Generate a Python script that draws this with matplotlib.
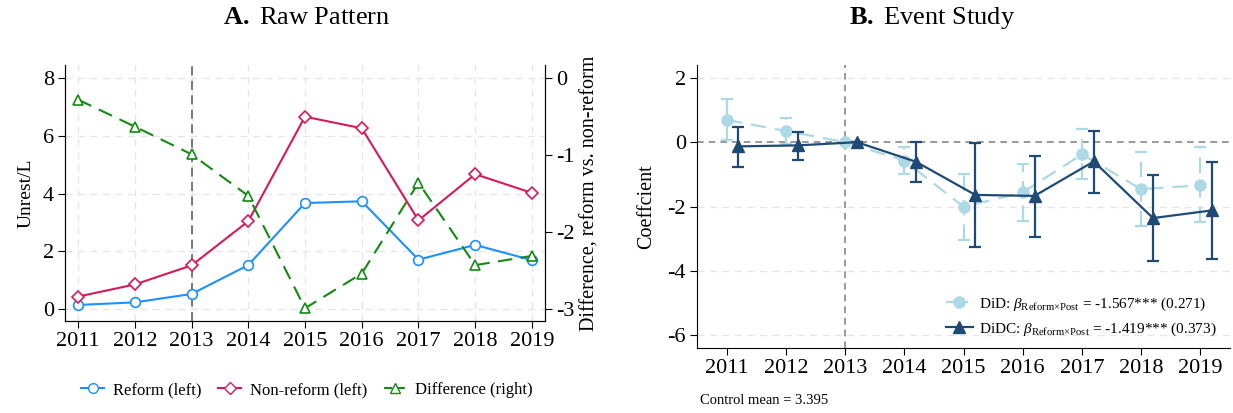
import numpy as np
import matplotlib
matplotlib.use('Agg')
import matplotlib.pyplot as plt
from matplotlib.lines import Line2D

plt.rcParams['font.family'] = ['Liberation Serif', 'DejaVu Serif']
plt.rcParams['mathtext.fontset'] = 'custom'
plt.rcParams['mathtext.rm'] = 'Liberation Serif'
plt.rcParams['mathtext.it'] = 'Liberation Serif:italic'
plt.rcParams['mathtext.bf'] = 'Liberation Serif:bold'
plt.rcParams['axes.unicode_minus'] = False

# ── 数据 ──
years = [2011, 2012, 2013, 2014, 2015, 2016, 2017, 2018, 2019]
reform = [0.14, 0.23, 0.52, 1.52, 3.67, 3.73, 1.71, 2.22, 1.69]
non_reform = [0.43, 0.85, 1.51, 3.04, 6.66, 6.26, 3.07, 4.67, 4.02]
difference = [-0.28, -0.63, -0.99, -1.53, -2.99, -2.54, -1.36, -2.43, -2.31]

did = [0.69, 0.35, 0.0, -0.57, -2.01, -1.56, -0.38, -1.46, -1.34]
did_hi = [1.33, 0.76, 0.0, -0.14, -0.98, -0.67, 0.41, -0.30, -0.16]
did_lo = [0.07, -0.06, 0.0, -0.98, -3.04, -2.45, -1.16, -2.61, -2.49]

didc = [-0.13, -0.10, 0.0, -0.61, -1.64, -1.67, -0.60, -2.36, -2.12]
didc_hi = [0.46, 0.32, 0.0, 0.01, -0.03, -0.43, 0.35, -1.01, -0.62]
didc_lo = [-0.76, -0.54, 0.0, -1.25, -3.27, -2.94, -1.57, -3.70, -3.63]

control_mean = 3.395

W, H = 1233, 413
fig = plt.figure(figsize=(W / 100, H / 100), dpi=100)

def px_axes(l, r, t, b):
    return fig.add_axes([l / W, 1 - b / H, (r - l) / W, (b - t) / H])

c_reform = '#1e8fff'
c_non = '#d7195b'
c_diff = '#138a13'
c_did = '#add8e6'
c_didc = '#1f4a75'
grid_kw = dict(color='#e6e6e6', linestyle=(0, (5, 4)), linewidth=1.0)

# ── A. Raw Pattern ──
ax1 = px_axes(65, 545, 65, 321)
ax1.set_xlim(2010.77, 2019.23)
ax1.set_ylim(-0.415, 8.45)
ax1.set_xticks(years)
ax1.set_yticks([0, 2, 4, 6, 8])
for y in [0, 2, 4, 6, 8]:
    ax1.axhline(y, zorder=0, **grid_kw)
for x in years:
    ax1.axvline(x, zorder=0, **grid_kw)
ax1.axvline(2013, color='#6e6e6e', linestyle=(0, (5, 3)), linewidth=1.3, zorder=1)
ax1.plot(years, reform, color=c_reform, marker='o', ms=7, mfc='white',
         mew=1.2, lw=1.5, zorder=3)
ax1.plot(years, non_reform, color=c_non, marker='D', ms=6.5, mfc='white',
         mew=1.2, lw=1.5, zorder=3)
ax1.spines['top'].set_visible(False)
ax1.set_ylabel('Unrest/L', fontsize=14, labelpad=6)
ax1.tick_params(labelsize=16, length=5, pad=3)

ax1b = ax1.twinx()
ax1b.set_ylim(-3.156, 0.17)
ax1b.set_yticks([0, -1, -2, -3])
ax1b.plot(years, difference, color=c_diff, marker='^', ms=7, mfc='white',
          mew=1.2, lw=1.5, linestyle=(0, (7, 4)), zorder=3)
ax1b.spines['top'].set_visible(False)
ax1b.set_ylabel('Difference, reform vs. non-reform', fontsize=14.5, labelpad=4)
ax1b.tick_params(labelsize=16, length=5, pad=3)

h1 = [Line2D([], [], color=c_reform, marker='o', ms=7, mfc='white', lw=1.5),
      Line2D([], [], color=c_non, marker='D', ms=6.5, mfc='white', lw=1.5),
      Line2D([], [], color=c_diff, marker='^', ms=7, mfc='white', lw=1.5,
             linestyle=(0, (4, 2)))]
fig.legend(h1, ['Reform (left)', 'Non-reform (left)', 'Difference (right)'],
           loc='center', bbox_to_anchor=(307 / W, 1 - 390 / H), ncol=3,
           frameon=False, fontsize=12, handlelength=1.4, handletextpad=0.5,
           columnspacing=1.0)

fig.text(307 / W, 1 - 18 / H, r'$\mathbf{A.}$ Raw Pattern', ha='center',
         va='center', fontsize=19)

# ── B. Event Study ──
ax2 = px_axes(697, 1230, 65, 348)
ax2.set_xlim(2010.5, 2019.5)
ax2.set_ylim(-6.4, 2.4)
ax2.set_xticks(years)
ax2.set_yticks([2, 0, -2, -4, -6])
for y in [2, -2, -4, -6]:
    ax2.axhline(y, zorder=0, **grid_kw)
ax2.axhline(0, color='#888888', linestyle=(0, (4, 3)), linewidth=1.2, zorder=1)
ax2.axvline(2013, color='#888888', linestyle=(0, (4, 3)), linewidth=1.2, zorder=1)

x_did = np.array(years, dtype=float)
x_didc = x_did + 0.2
did_a = np.array(did)
didc_a = np.array(didc)
err_did = [did_a - np.array(did_lo), np.array(did_hi) - did_a]
err_didc = [didc_a - np.array(didc_lo), np.array(didc_hi) - didc_a]

e1 = ax2.errorbar(x_did, did, yerr=err_did, color=c_did, marker='o', ms=8,
                  lw=1.6, linestyle=(0, (7, 4)), capsize=4, elinewidth=1.6,
                  capthick=1.6, zorder=3)
e1[2][0].set_linestyle((0, (7, 4)))
e2 = ax2.errorbar(x_didc, didc, yerr=err_didc, color=c_didc, marker='^', ms=8.5,
                  lw=1.6, capsize=4, elinewidth=1.6, capthick=1.6, zorder=4)

for s in ['top', 'right']:
    ax2.spines[s].set_visible(False)
ax2.set_ylabel('Coeffcient', fontsize=14.5, labelpad=8)
ax2.tick_params(labelsize=16, length=5, pad=3)

h2 = [Line2D([], [], color=c_did, marker='o', ms=8, lw=1.6, linestyle=(0, (4, 2))),
      Line2D([], [], color=c_didc, marker='^', ms=8.5, lw=1.6)]
lab2 = [r'DiD: $\beta_{\mathrm{Reform{\times}Post}}$ = -1.567*** (0.271)',
        r'DiDC: $\beta_{\mathrm{Reform{\times}Post}}$ = -1.419*** (0.373)']
ax2.legend(h2, lab2, loc='upper left', bbox_to_anchor=(938 / W, 1 - 288 / H),
           bbox_transform=fig.transFigure, frameon=False, fontsize=11,
           handlelength=1.8, handletextpad=0.4, borderpad=0, labelspacing=0.5)

fig.text(932 / W, 1 - 18 / H, r'$\mathbf{B.}$ Event Study', ha='center',
         va='center', fontsize=19)
fig.text(700 / W, 1 - 400 / H, f'Control mean = {control_mean:.3f}',
         ha='left', va='center', fontsize=10.5)

plt.savefig('out.png', dpi=100)
plt.close()
